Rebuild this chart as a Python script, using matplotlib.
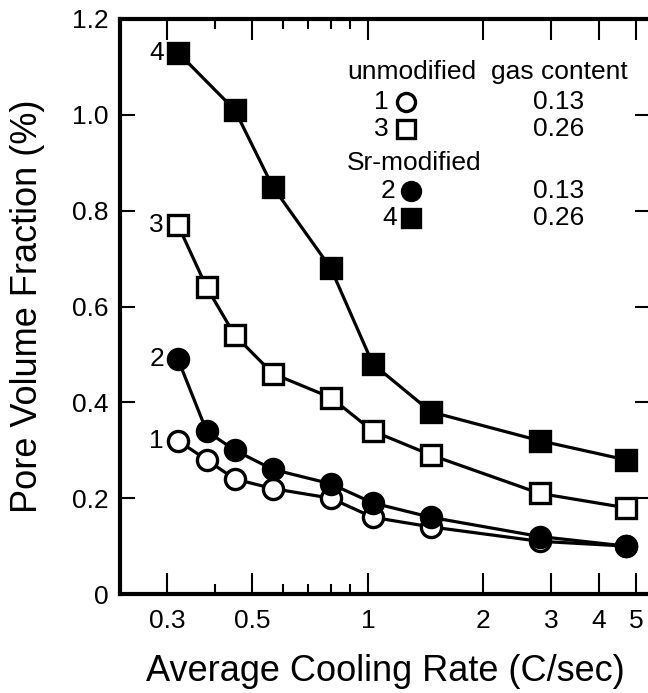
import matplotlib
matplotlib.use("Agg")
import matplotlib.pyplot as plt
from matplotlib.ticker import FixedLocator, FixedFormatter, NullFormatter

plt.rcParams["font.family"] = ["Liberation Sans", "DejaVu Sans"]

# -- Data --------------------------------------------------------------------
cooling_rate = [0.32, 0.38, 0.45, 0.565, 0.80, 1.03, 1.46, 2.8, 4.7]
cooling_rate_4 = [0.32, 0.45, 0.565, 0.80, 1.03, 1.46, 2.8, 4.7]

unmod_013 = [0.32, 0.28, 0.24, 0.22, 0.20, 0.16, 0.14, 0.11, 0.10]   # 1
sr_013    = [0.49, 0.34, 0.30, 0.26, 0.23, 0.19, 0.16, 0.12, 0.10]   # 2
unmod_026 = [0.77, 0.64, 0.54, 0.46, 0.41, 0.34, 0.29, 0.21, 0.18]   # 3
sr_026    = [1.13, 1.01, 0.85, 0.68, 0.48, 0.38, 0.32, 0.28]         # 4

x_major = [0.3, 0.5, 1, 2, 3, 4, 5]
x_major_labels = ["0.3", "0.5", "1", "2", "3", "4", "5"]
x_minor = [0.4, 0.6, 0.7, 0.8, 0.9]
y_ticks = [0, 0.2, 0.4, 0.6, 0.8, 1.0, 1.2]
y_tick_labels = ["0", "0.2", "0.4", "0.6", "0.8", "1.0", "1.2"]

BLACK = "#000000"
LW = 2.3
MS = 14.5
MEW = 2.4
FS = 19

fig = plt.figure(figsize=(6.48, 6.93), dpi=100)
ax = fig.add_axes([120 / 648, 1 - 594 / 693, 530 / 648, 575 / 693])

series = [
    (cooling_rate, unmod_013, "o", "white", "1"),
    (cooling_rate, sr_013, "o", BLACK, "2"),
    (cooling_rate, unmod_026, "s", "white", "3"),
    (cooling_rate_4, sr_026, "s", BLACK, "4"),
]
for xs, ys, mk, fc, lab in series:
    ax.plot(xs, ys, color=BLACK, lw=LW, marker=mk, ms=MS,
            mfc=fc, mec=BLACK, mew=MEW, zorder=3)
    ax.annotate(lab, xy=(xs[0], ys[0]), xytext=(-10, 0),
                textcoords="offset points", ha="right", va="center",
                fontsize=FS, color=BLACK)

ax.set_xscale("log")
ax.set_xlim(0.226, 5.43)
ax.set_ylim(0, 1.2)

ax.xaxis.set_major_locator(FixedLocator(x_major))
ax.xaxis.set_major_formatter(FixedFormatter(x_major_labels))
ax.xaxis.set_minor_locator(FixedLocator(x_minor))
ax.xaxis.set_minor_formatter(NullFormatter())
ax.yaxis.set_major_locator(FixedLocator(y_ticks))
ax.yaxis.set_major_formatter(FixedFormatter(y_tick_labels))
ax.yaxis.set_minor_locator(FixedLocator([]))

ax.tick_params(axis="x", which="major", direction="in", length=15, width=1.5,
               top=True, labelsize=FS, pad=11)
ax.tick_params(axis="x", which="minor", direction="in", length=7, width=1.5,
               top=True)
ax.tick_params(axis="y", which="major", direction="in", length=11, width=1.5,
               right=True, labelsize=FS, pad=8)

for side in ["left", "bottom", "top", "right"]:
    ax.spines[side].set_linewidth(3)

ax.set_xlabel("Average Cooling Rate (C/sec)", fontsize=26)
ax.set_ylabel("Pore Volume Fraction (%)", fontsize=26)
ax.xaxis.set_label_coords(0.5, -0.105)
ax.yaxis.set_label_coords(-0.142, 0.5)

# -- Legend block as text + markers ------------------------------------------
T = ax.transAxes
ax.text(0.428, 0.908, "unmodified", transform=T, ha="left", va="center", fontsize=FS)
ax.text(0.700, 0.908, "gas content", transform=T, ha="left", va="center", fontsize=FS)
ax.text(0.428, 0.750, "Sr-modified", transform=T, ha="left", va="center", fontsize=FS)

legend_rows = [
    ("1", "o", "white", 0.856, 0.506, 0.540, "0.13"),
    ("3", "s", "white", 0.809, 0.506, 0.540, "0.26"),
    ("2", "o", BLACK, 0.701, 0.520, 0.549, "0.13"),
    ("4", "s", BLACK, 0.654, 0.522, 0.549, "0.26"),
]
for num, mk, fc, yy, xn, xm, gas in legend_rows:
    ax.text(xn, yy, num, transform=T, ha="right", va="center", fontsize=FS)
    ax.plot([xm], [yy], transform=T, marker=mk, ms=13, mfc=fc, mec=BLACK,
            mew=MEW, ls="none", clip_on=False)
    ax.text(0.828, yy, gas, transform=T, ha="center", va="center", fontsize=FS)

fig.savefig("out.png", dpi=100, facecolor="white")
